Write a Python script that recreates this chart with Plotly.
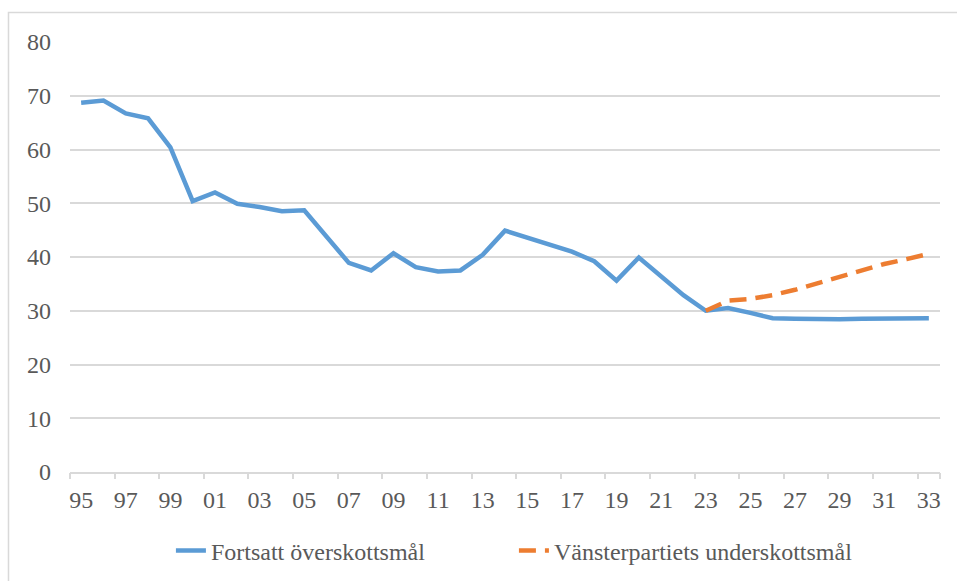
import plotly.graph_objects as go

years = list(range(1995, 2034))
tick_labels = [f"{y % 100:02d}" for y in years]

fortsatt = [68.7, 69.1, 66.7, 65.8, 60.4, 50.4, 52.0, 49.9, 49.3, 48.5,
            48.7, 43.7, 38.9, 37.5, 40.7, 38.1, 37.3, 37.5, 40.4, 44.9,
            43.6, 42.3, 41.0, 39.2, 35.6, 39.9, 36.4, 32.9, 30.0, 30.5,
            29.6, 28.6, 28.5, 28.4, 28.4, 28.5, 28.6, 28.5, 28.6]

v_years = list(range(2023, 2034))
vanster = [30.0, 31.9, 32.2, 32.9, 33.9, 35.1, 36.4, 37.6, 38.7, 39.6, 40.6]

FONT = "Liberation Serif, Times New Roman, serif"
GRAY_TXT = "#595959"
GRID = "#d9d9d9"
FS = 24

fig = go.Figure()
fig.add_trace(go.Scatter(x=years, y=fortsatt, mode="lines",
                         name="Fortsatt överskottsmål",
                         line=dict(color="#5B9BD5", width=4.5)))
fig.add_trace(go.Scatter(x=v_years, y=vanster, mode="lines",
                         name="Vänsterpartiets underskottsmål",
                         line=dict(color="#ED7D31", width=4.5, dash="17px,9px")))
# empty trace to carry the category-boundary tick axis
fig.add_trace(go.Scatter(x=[], y=[], xaxis="x2", showlegend=False, hoverinfo="skip"))

boundaries = [y - 0.5 for y in years[::2]] + [years[-1] + 0.5]

fig.update_layout(
    width=957, height=581,
    margin=dict(l=70, r=17, t=42, b=109),
    paper_bgcolor="white", plot_bgcolor="white",
    font=dict(family=FONT, size=FS, color=GRAY_TXT),
    xaxis=dict(range=[years[0] - 0.5, years[-1] + 0.5],
               tickvals=years[::2], ticktext=tick_labels[::2],
               ticks="", showgrid=False, zeroline=False,
               showline=True, linecolor=GRID, linewidth=1.5,
               ticklabelstandoff=5, automargin=False,
               tickfont=dict(family=FONT, size=FS, color=GRAY_TXT)),
    xaxis2=dict(range=[years[0] - 0.5, years[-1] + 0.5], overlaying="x",
                anchor="y", side="bottom",
                tickvals=boundaries, ticks="outside", ticklen=6,
                tickcolor=GRID, tickwidth=1.5, showticklabels=False,
                showgrid=False, zeroline=False, showline=False,
                automargin=False),
    yaxis=dict(range=[0, 80], tickvals=[0, 10, 20, 30, 40, 50, 60, 70, 80],
               showgrid=True, gridcolor=GRID, gridwidth=1.5,
               zeroline=False, showline=False, ticks="",
               ticklabelstandoff=18, automargin=False,
               tickfont=dict(family=FONT, size=FS, color=GRAY_TXT)),
    legend=dict(orientation="h", x=0.116, xanchor="left",
                yref="container", y=0.052, yanchor="middle",
                font=dict(family=FONT, size=FS, color=GRAY_TXT),
                bgcolor="rgba(0,0,0,0)", entrywidth=298),
    shapes=[dict(type="rect", xref="paper", yref="paper",
                 x0=-0.0707, x1=1.03, y0=-0.27, y1=1.0688,
                 line=dict(color=GRID, width=1.5), layer="below")],
    showlegend=True,
)

fig.write_html("out.html",
               config={"displayModeBar": False},
               post_script="document.body.style.margin='0';document.body.style.overflow='hidden';")
